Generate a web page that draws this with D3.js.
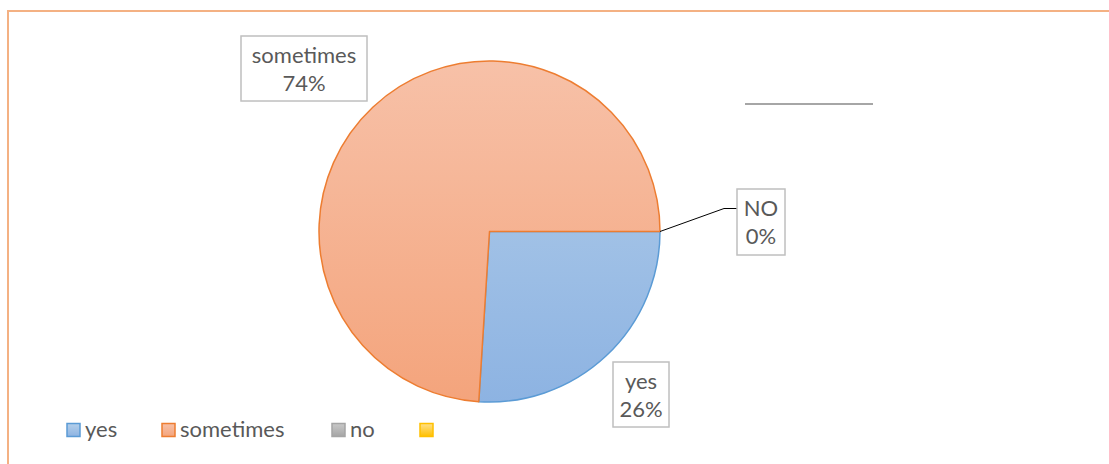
<!DOCTYPE html>
<html>
<head>
<meta charset="utf-8">
<script src="https://cdn.jsdelivr.net/npm/d3@7"></script>
<style>
  body { margin: 0; background: #fff; }
  svg text { font-family: Lato, "Open Sans", sans-serif; fill: #595959; }
</style>
</head>
<body>
<svg id="chart" width="1109" height="464"></svg>
<script>
// chart data
var categories = ["yes", "sometimes", "no", ""];
var values = [26, 74, 0, 0];
var labelNames = ["yes", "sometimes", "NO", ""];
var fillTop = ["#b4cfea", "#f7c1a8", "#c9c9c9", "#ffe08a"];
var fillBottom = ["#8db3e2", "#f4a47c", "#a5a5a5", "#ffc000"];
var strokes = ["#5b9bd5", "#ed7d31", "#a5a5a5", "#ffc000"];

var svg = d3.select("#chart");
var width = 1109, height = 464;
var fontSize = 22;

// outer frame
svg.append("line").attr("x1", 8).attr("x2", width).attr("y1", 11).attr("y2", 11)
   .attr("stroke", "#f4b183").attr("stroke-width", 2);
svg.append("line").attr("x1", 8).attr("x2", 8).attr("y1", 10).attr("y2", height)
   .attr("stroke", "#f4b183").attr("stroke-width", 2);

var cx = 489.5, cy = 231.5, radius = 170.5;

var defs = svg.append("defs");
categories.forEach(function(c, i) {
    var g = defs.append("linearGradient")
        .attr("id", "grad" + i)
        .attr("gradientUnits", "userSpaceOnUse")
        .attr("x1", 0).attr("y1", -radius).attr("x2", 0).attr("y2", radius);
    g.append("stop").attr("offset", "0%").attr("stop-color", fillTop[i]);
    g.append("stop").attr("offset", "100%").attr("stop-color", fillBottom[i]);
    var lg = defs.append("linearGradient").attr("id", "lg" + i)
        .attr("x1", 0).attr("y1", 0).attr("x2", 0).attr("y2", 1);
    lg.append("stop").attr("offset", "0%").attr("stop-color", fillTop[i]);
    lg.append("stop").attr("offset", "100%").attr("stop-color", fillBottom[i]);
});

var records = categories.map(function(c, i) {
    return {key: c, value: values[i], idx: i};
});

var pie = d3.pie()
    .value(function(d) { return d.value; })
    .sort(null)
    .startAngle(Math.PI / 2)
    .endAngle(Math.PI / 2 + 2 * Math.PI);

var arc = d3.arc().innerRadius(0).outerRadius(radius);

var arcs = pie(records);

var g = svg.append("g").attr("transform", "translate(" + cx + "," + cy + ")");

g.selectAll("path")
   .data(arcs.filter(function(d) { return d.value > 0; }))
   .enter()
   .append("path")
   .attr("d", arc)
   .attr("fill", function(d) { return "url(#grad" + d.data.idx + ")"; })
   .attr("stroke", function(d) { return strokes[d.data.idx]; })
   .attr("stroke-width", 1.5)
   .attr("stroke-linejoin", "round");

// data labels
var fmt = d3.format(".0%");
var total = d3.sum(values);

function labelBox(x, y, w, h, name, v) {
    var lg = svg.append("g");
    lg.append("rect").attr("x", x).attr("y", y).attr("width", w).attr("height", h)
      .attr("fill", "#fff").attr("stroke", "#bfbfbf").attr("stroke-width", 1.5);
    lg.append("text").attr("x", x + w / 2).attr("y", y + 27)
      .attr("text-anchor", "middle").attr("font-size", fontSize).text(name);
    lg.append("text").attr("x", x + w / 2).attr("y", y + 55)
      .attr("text-anchor", "middle").attr("font-size", fontSize).text(fmt(v / total));
}

labelBox(241, 36, 126, 65, labelNames[1], values[1]);
labelBox(613, 362, 56, 65, labelNames[0], values[0]);

// leader line for zero slice
var a0 = arcs[2].startAngle;
var px = cx + radius * Math.sin(a0), py = cy - radius * Math.cos(a0);
svg.append("polyline")
   .attr("points", [[px, py], [724, 208.5], [737, 208.5]].map(function(p) { return p.join(","); }).join(" "))
   .attr("fill", "none").attr("stroke", "#000").attr("stroke-width", 1);
labelBox(737, 189, 48, 66, labelNames[2], values[2]);

// empty label leader
svg.append("line").attr("x1", 745).attr("x2", 873).attr("y1", 104).attr("y2", 104)
   .attr("stroke", "#a6a6a6").attr("stroke-width", 2);

// legend
var legendX = [67, 162, 332, 420];
var legend = svg.append("g");
categories.forEach(function(c, i) {
    legend.append("rect")
      .attr("x", legendX[i]).attr("y", 423.5).attr("width", 13).attr("height", 13)
      .attr("fill", "url(#lg" + i + ")")
      .attr("stroke", strokes[i]).attr("stroke-width", 1.5);
    legend.append("text")
      .attr("x", legendX[i] + 18).attr("y", 437)
      .attr("font-size", fontSize).text(c);
});
</script>
</body>
</html>
